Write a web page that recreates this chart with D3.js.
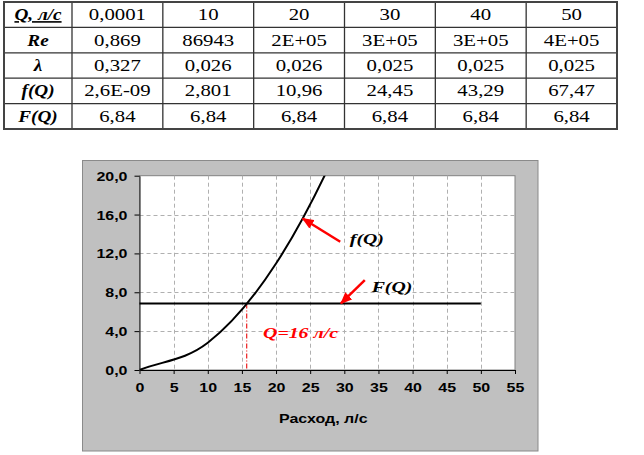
<!DOCTYPE html>
<html>
<head>
<meta charset="utf-8">
<script src="https://cdn.jsdelivr.net/npm/d3@7"></script>
<style>
  html, body { margin: 0; padding: 0; background: #fff; }
  svg { display: block; }
  .serif { font-family: "Liberation Serif", "Times New Roman", "DejaVu Serif", serif; }
  .sans { font-family: "Liberation Sans", Arial, sans-serif; }
</style>
</head>
<body>
<svg id="chart" width="644" height="455"></svg>
<script>
// ---------- data ----------
const rowHeaders = ["Q, л/с", "Re", "λ", "f(Q)", "F(Q)"];
const qLabels = ["0,0001", "10", "20", "30", "40", "50"];
const reLabels = ["0,869", "86943", "2E+05", "3E+05", "3E+05", "4E+05"];
const lambdaLabels = ["0,327", "0,026", "0,026", "0,025", "0,025", "0,025"];
const fLabels = ["2,6E-09", "2,801", "10,96", "24,45", "43,29", "67,47"];
const FLabels = ["6,84", "6,84", "6,84", "6,84", "6,84", "6,84"];

const qValues = [0.0001, 10, 20, 30, 40, 50];
const fValues = [2.6e-9, 2.801, 10.96, 24.45, 43.29, 67.47];
const FValues = [6.84, 6.84, 6.84, 6.84, 6.84, 6.84];

const xTicks = [0, 5, 10, 15, 20, 25, 30, 35, 40, 45, 50, 55];
const yTicks = [0, 4, 8, 12, 16, 20];
const xTitle = "Расход, л/с";
const qSolution = 15.7;
const solutionLabel = "Q=16 л/с";

// ---------- setup ----------
const svg = d3.select("#chart");
const SX = 1.28; // horizontal stretch of the original rendering

function label(parent, x, y, str, o = {}) {
  const g = parent.append("g").attr("transform", `translate(${x},${y}) scale(${o.sx || SX},1)`);
  const t = g.append("text")
    .attr("class", o.cls || "serif")
    .attr("text-anchor", o.anchor || "start")
    .style("font-size", (o.size || 16) + "px")
    .style("font-weight", o.weight || "normal")
    .style("font-style", o.style || "normal")
    .attr("fill", o.fill || "#000")
    .text(str);
  if (o.underline) t.style("text-decoration", "underline");
  return t;
}

// ---------- table ----------
const tbl = svg.append("g");
const tLeft = 4, tRight = 617, tTop = 2, tBottom = 129, firstW = 68;
const rowH = (tBottom - tTop) / rowHeaders.length;
const colW = (tRight - tLeft - firstW) / qLabels.length;
const rows = [qLabels, reLabels, lambdaLabels, fLabels, FLabels];

rowHeaders.forEach((h, i) => {
  const cy = tTop + i * rowH + rowH / 2 + 5.5;
  label(tbl, tLeft + firstW / 2, cy, h, {anchor: "middle", weight: "bold", style: "italic", size: 16, sx: 1.2, underline: i === 0});
  rows[i].forEach((v, j) => {
    label(tbl, tLeft + firstW + colW * (j + 0.5), cy, v, {anchor: "middle", size: 16, sx: 1.3});
  });
});
for (let i = 1; i < rowHeaders.length; i++) {
  tbl.append("line").attr("x1", tLeft).attr("x2", tRight)
    .attr("y1", tTop + i * rowH).attr("y2", tTop + i * rowH)
    .attr("stroke", "#333").attr("stroke-width", 1.3);
}
for (let j = 0; j < qLabels.length; j++) {
  const xx = tLeft + firstW + j * colW;
  tbl.append("line").attr("x1", xx).attr("x2", xx)
    .attr("y1", tTop).attr("y2", tBottom)
    .attr("stroke", "#333").attr("stroke-width", 1.3);
}
tbl.append("rect").attr("x", tLeft).attr("y", tTop)
  .attr("width", tRight - tLeft).attr("height", tBottom - tTop)
  .attr("fill", "none").attr("stroke", "#444").attr("stroke-width", 2);

// ---------- chart ----------
const panel = {x: 82, y: 160, w: 455.5, h: 290.5};
svg.append("rect").attr("x", panel.x + 0.5).attr("y", panel.y + 0.5)
  .attr("width", panel.w).attr("height", panel.h)
  .attr("fill", "#c0c0c0").attr("stroke", "#8a8a8a").attr("stroke-width", 1);

const pl = {left: 139.5, right: 515, top: 175.7, bottom: 370};
const x = d3.scaleLinear().domain([0, 55]).range([pl.left, pl.right]);
const y = d3.scaleLinear().domain([0, 20]).range([pl.bottom, pl.top]);

svg.append("rect").attr("x", pl.left).attr("y", pl.top)
  .attr("width", pl.right - pl.left).attr("height", pl.bottom - pl.top)
  .attr("fill", "#fff").attr("stroke", "#808080").attr("stroke-width", 1);

// grid
const grid = svg.append("g").attr("stroke", "#b0b0b0").attr("stroke-width", 1).attr("stroke-dasharray", "4,3");
xTicks.filter(t => t > 0 && t < 55).forEach(t => {
  grid.append("line").attr("x1", Math.round(x(t)) + 0.5).attr("x2", Math.round(x(t)) + 0.5)
    .attr("y1", pl.top).attr("y2", pl.bottom);
});
yTicks.filter(t => t > 0 && t < 20).forEach(t => {
  grid.append("line").attr("y1", Math.round(y(t)) + 0.5).attr("y2", Math.round(y(t)) + 0.5)
    .attr("x1", pl.left).attr("x2", pl.right);
});

// axes
const fmtY = d => d.toFixed(1).replace(".", ",");
const xAxis = svg.append("g").attr("transform", `translate(0,${pl.bottom})`)
  .call(d3.axisBottom(x).tickValues(xTicks).tickSize(4).tickSizeOuter(0).tickFormat(d3.format("d")));
const yAxis = svg.append("g").attr("transform", `translate(${pl.left},0)`)
  .call(d3.axisLeft(y).tickValues(yTicks).tickSize(5).tickSizeOuter(0).tickFormat(fmtY));
[xAxis, yAxis].forEach(a => {
  a.attr("font-family", null).attr("font-size", null);
  a.select(".domain").attr("stroke", "#000").attr("stroke-width", 1.2);
  a.selectAll(".tick line").attr("stroke", "#000");
  a.selectAll(".tick text").attr("class", "sans")
    .style("font-size", "12.5px").style("font-weight", "bold").attr("fill", "#000");
});
yAxis.select(".domain").attr("stroke", "#333");
xAxis.selectAll(".tick text").attr("y", 13).attr("dy", "0.71em").attr("transform", `scale(${SX},1)`);
yAxis.selectAll(".tick text").attr("x", -12 / SX).attr("dy", "0.36em").attr("transform", `scale(${SX},1)`);

label(svg, (pl.left + pl.right) / 2 - 4, 423, xTitle,
  {anchor: "middle", cls: "sans", weight: "bold", size: 12.5});

// clip
svg.append("clipPath").attr("id", "clip").append("rect")
  .attr("x", pl.left).attr("y", pl.top).attr("width", pl.right - pl.left).attr("height", pl.bottom - pl.top);

// vertical solution line
svg.append("line")
  .attr("x1", x(qSolution)).attr("x2", x(qSolution))
  .attr("y1", y(FValues[0])).attr("y2", y(0))
  .attr("stroke", "#ee2020").attr("stroke-width", 1.2).attr("stroke-dasharray", "5,2,1,2");

// F(Q) line
const lineF = d3.line().x((d, i) => x(qValues[i])).y(d => y(d));
svg.append("path").datum(FValues).attr("d", lineF)
  .attr("fill", "none").attr("stroke", "#000").attr("stroke-width", 2);

// f(Q) smooth curve (spreadsheet-style Bezier smoothing through the data points)
function smoothPath(px, py) {
  const p = d3.path();
  const n = px.length;
  p.moveTo(px[0], py[0]);
  for (let i = 0; i < n - 1; i++) {
    let c1x, c1y, c2x, c2y;
    if (i === 0) { c1x = px[0] + (px[1] - px[0]) / 3; c1y = py[0] + (py[1] - py[0]) / 3; }
    else { c1x = px[i] + (px[i + 1] - px[i - 1]) / 6; c1y = py[i] + (py[i + 1] - py[i - 1]) / 6; }
    if (i === n - 2) { c2x = px[n - 1] - (px[n - 1] - px[n - 2]) / 3; c2y = py[n - 1] - (py[n - 1] - py[n - 2]) / 3; }
    else { c2x = px[i + 1] - (px[i + 2] - px[i]) / 6; c2y = py[i + 1] - (py[i + 2] - py[i]) / 6; }
    p.bezierCurveTo(c1x, c1y, c2x, c2y, px[i + 1], py[i + 1]);
  }
  return p.toString();
}
svg.append("path")
  .attr("d", smoothPath(qValues.map(v => x(v)), fValues.map(v => y(v))))
  .attr("clip-path", "url(#clip)")
  .attr("fill", "none").attr("stroke", "#000").attr("stroke-width", 2);

// arrows
svg.append("defs").append("marker").attr("id", "arr")
  .attr("viewBox", "0 0 12 10").attr("refX", 11).attr("refY", 5)
  .attr("markerWidth", 12).attr("markerHeight", 10)
  .attr("markerUnits", "userSpaceOnUse").attr("orient", "auto")
  .append("path").attr("d", "M0,0 L12,5 L0,10 Z").attr("fill", "#ff0000");

const arrows = [
  {from: [29.4, 13.2], to: [23.9, 15.6]},
  {from: [33.0, 9.25], to: [29.5, 6.85]}
];
arrows.forEach(a => {
  svg.append("line")
    .attr("x1", x(a.from[0])).attr("y1", y(a.from[1]))
    .attr("x2", x(a.to[0])).attr("y2", y(a.to[1]))
    .attr("stroke", "#ff0000").attr("stroke-width", 2.5).attr("marker-end", "url(#arr)");
});

const serifBI = {weight: "bold", style: "italic", size: 15.5};
label(svg, x(30.8), y(13.0), "f(Q)", serifBI);
label(svg, x(34.0), y(8.0), "F(Q)", serifBI);
label(svg, x(18.1), y(3.3), solutionLabel, Object.assign({}, serifBI, {fill: "#ff0000"}));
</script>
</body>
</html>
